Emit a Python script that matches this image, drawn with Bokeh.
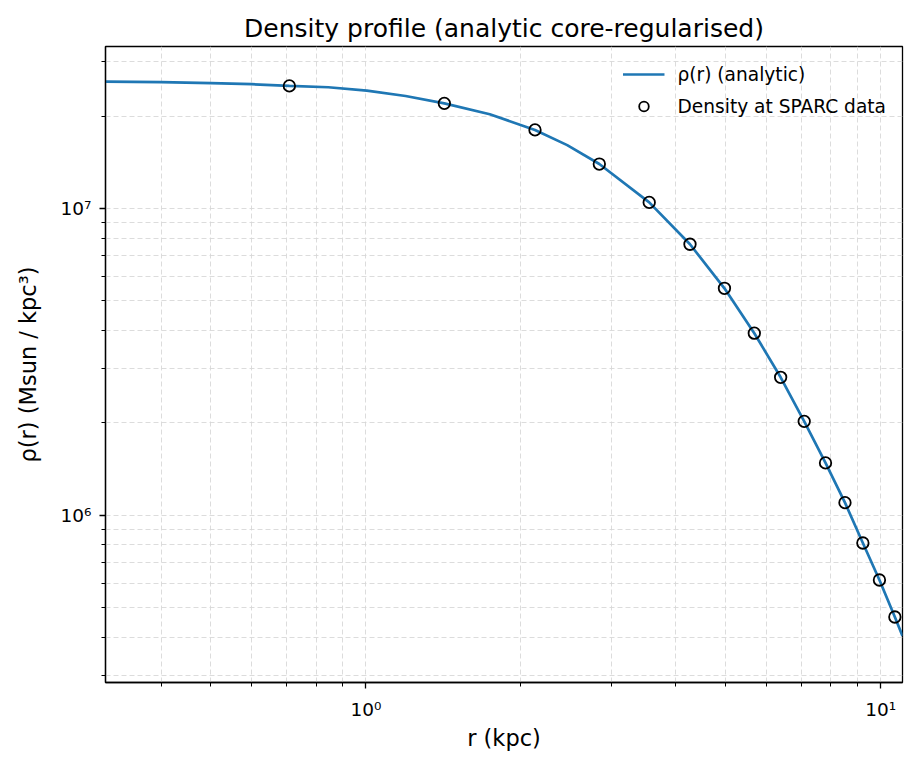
from bokeh.plotting import figure
from bokeh.models import Range1d, FixedTicker, Legend, LegendItem, ColumnDataSource
from bokeh.embed import file_html
from bokeh.resources import INLINE

# ---- data ----
r_data = [0.71, 1.42, 2.13, 2.84, 3.55, 4.26, 4.97, 5.68, 6.39, 7.10, 7.81, 8.52, 9.23, 9.94, 10.65]
rho_data = [2.507e7, 2.200e7, 1.802e7, 1.395e7, 1.046e7, 7.64e6, 5.49e6, 3.92e6,
            2.815e6, 2.023e6, 1.481e6, 1.099e6, 8.12e5, 6.15e5, 4.66e5]

r_curve = [0.312, 0.40, 0.50, 0.60, 0.71, 0.845, 1.004, 1.194, 1.42, 1.74, 2.13, 2.46, 2.84,
           3.55, 4.26, 4.97, 5.68, 6.39, 7.10, 7.81, 8.52, 9.23, 9.94, 10.65, 11.02]
rho_curve = [2.589e7, 2.578e7, 2.560e7, 2.540e7, 2.507e7, 2.482e7, 2.420e7, 2.325e7, 2.200e7,
             2.027e7, 1.802e7, 1.608e7, 1.395e7, 1.046e7, 7.64e6, 5.49e6, 3.92e6, 2.815e6,
             2.023e6, 1.481e6, 1.099e6, 8.12e5, 6.15e5, 4.66e5, 4.04e5]

x_major = [1, 10]
x_major_labels = ["10\u2070", "10\u00b9"]
x_minor = [0.4, 0.5, 0.6, 0.7, 0.8, 0.9, 2, 3, 4, 5, 6, 7, 8, 9]
y_major = [1e6, 1e7]
y_major_labels = ["10\u2076", "10\u2077"]
y_minor = [3e5, 4e5, 5e5, 6e5, 7e5, 8e5, 9e5, 2e6, 3e6, 4e6, 5e6, 6e6, 7e6, 8e6, 9e6, 2e7, 3e7]

title_text = "Density profile (analytic core-regularised)"
x_label = "r (kpc)"
y_label = "\u03c1(r) (Msun / kpc\u00b3)"
line_label = "\u03c1(r) (analytic)"
pts_label = "Density at SPARC data"

FONT = "DejaVu Sans"

p = figure(width=917, height=767, x_axis_type="log", y_axis_type="log",
           x_range=Range1d(0.312, 11.02), y_range=Range1d(2.85e5, 3.37e7),
           output_backend="svg", toolbar_location=None,
           min_border_left=105, min_border_right=15, min_border_top=46, min_border_bottom=85)

p.title.text = title_text
p.title.align = "center"
p.title.text_font = FONT
p.title.text_font_size = "25px"
p.title.text_font_style = "normal"
p.title.text_color = "black"
p.title.standoff = 8

xt = FixedTicker(ticks=x_major, minor_ticks=x_minor)
yt = FixedTicker(ticks=y_major, minor_ticks=y_minor)
p.xaxis.ticker = xt
p.yaxis.ticker = yt
p.xgrid.ticker = xt
p.ygrid.ticker = yt
p.xaxis.major_label_overrides = {v: s for v, s in zip(x_major, x_major_labels)}
p.yaxis.major_label_overrides = {v: s for v, s in zip(y_major, y_major_labels)}

for ax in (p.xaxis, p.yaxis):
    ax.axis_line_color = "black"
    ax.axis_line_width = 1.3
    ax.major_tick_line_color = "black"
    ax.minor_tick_line_color = "black"
    ax.major_tick_line_width = 1.3
    ax.minor_tick_line_width = 1.0
    ax.major_tick_out = 6
    ax.major_tick_in = 0
    ax.minor_tick_out = 4
    ax.minor_tick_in = 0
    ax.major_label_text_font = FONT
    ax.major_label_text_font_size = "18.5px"
    ax.major_label_text_color = "black"
    ax.axis_label_text_font = FONT
    ax.axis_label_text_font_size = "22.5px"
    ax.axis_label_text_font_style = "normal"
    ax.axis_label_text_color = "black"

p.xaxis.major_label_standoff = 10
p.xaxis.axis_label_standoff = 2
p.yaxis.major_label_standoff = 8
p.yaxis.axis_label_standoff = 17

p.xaxis.axis_label = x_label
p.yaxis.axis_label = y_label

for g in (p.xgrid, p.ygrid):
    g.grid_line_color = "#d6d6d6"
    g.grid_line_width = 1
    g.grid_line_dash = "5 3"
    g.grid_line_alpha = 0.85
    g.minor_grid_line_color = "#d6d6d6"
    g.minor_grid_line_width = 1
    g.minor_grid_line_dash = "5 3"
    g.minor_grid_line_alpha = 0.85

p.outline_line_color = "black"
p.outline_line_width = 1.3
p.outline_line_alpha = 1.0
p.background_fill_color = "white"
p.border_fill_color = "white"

curve_src = ColumnDataSource(dict(r=r_curve, rho=rho_curve))
pts_src = ColumnDataSource(dict(r=r_data, rho=rho_data))

ln = p.line("r", "rho", source=curve_src, line_color="#1f77b4", line_width=2.7)
sc = p.scatter("r", "rho", source=pts_src, marker="circle", size=11.5,
               fill_color=None, line_color="black", line_width=1.8)

legend = Legend(items=[LegendItem(label=line_label, renderers=[ln]),
                       LegendItem(label=pts_label, renderers=[sc])],
                location="top_right")
legend.label_text_font = FONT
legend.label_text_font_size = "18.6px"
legend.label_text_color = "black"
legend.glyph_width = 42
legend.glyph_height = 24
legend.label_height = 24
legend.spacing = 8
legend.label_standoff = 13
legend.padding = 8
legend.margin = 8
legend.border_line_alpha = 0
legend.background_fill_alpha = 0
p.add_layout(legend)

open("out.html", "w").write(file_html(p, INLINE))
